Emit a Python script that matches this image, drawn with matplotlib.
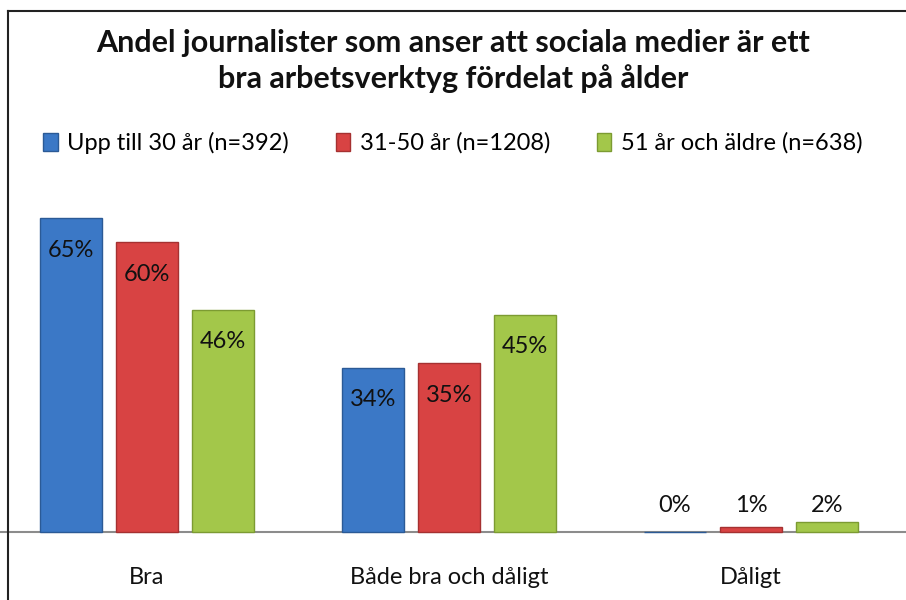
import matplotlib

matplotlib.use("Agg")
import matplotlib.pyplot as plt
from matplotlib.lines import Line2D
from matplotlib.patches import Patch
import numpy as np

plt.rcParams["font.family"] = ["Lato", "DejaVu Sans"]

categories = ["Bra", "Både bra och dåligt", "Dåligt"]
series_names = [
    "Upp till 30 år (n=392)",
    "31-50 år (n=1208)",
    "51 år och äldre (n=638)",
]
young = [65, 34, 0]
middle = [60, 35, 1]
older = [46, 45, 2]
value_labels = [
    ["65%", "34%", "0%"],
    ["60%", "35%", "1%"],
    ["46%", "45%", "2%"],
]
title = "Andel journalister som anser att sociala medier är ett\nbra arbetsverktyg fördelat på ålder"

colors = ["#3b78c6", "#d84343", "#a3c74a"]
edges = ["#2b5a96", "#a53131", "#7c9b32"]

fig = plt.figure(figsize=(9.06, 6.0), dpi=100)
ax = fig.add_axes([0.0, 1 - 532 / 600, 1.0, 338 / 600])

x = np.arange(len(categories))
width = 0.205
step = 0.252
for i, vals in enumerate([young, middle, older]):
    pos = x + (i - 1) * step
    ax.bar(pos, vals, width, color=colors[i], edgecolor=edges[i], linewidth=1.0,
           zorder=3, clip_on=False)
    for p, v, lab in zip(pos, vals, value_labels[i]):
        if v > 10:
            ax.annotate(lab, (p, v), xytext=(0, -32), textcoords="offset pixels",
                        ha="center", va="center", fontsize=17, color="#111111", zorder=4)
        else:
            ax.annotate(lab, (p, 0), xytext=(0, 26), textcoords="offset pixels",
                        ha="center", va="center", fontsize=17, color="#111111", zorder=4)

ax.set_xlim(-147 / 302, (906 - 147) / 302)
ax.set_ylim(0, 70)
ax.axis("off")
ax.plot([-1, 3], [0, 0], color="#8c8c8c", linewidth=1.5, zorder=2, clip_on=False)

for xi, cat in zip(x, categories):
    ax.annotate(cat, (xi, 0), xytext=(0, -45), textcoords="offset pixels",
                ha="center", va="center", fontsize=17, color="#111111")

fig.text(0.5, 1 - 61 / 600, title, ha="center", va="center", fontsize=22,
         fontweight="bold", color="#111111", linespacing=1.3)

handles = [Patch(facecolor=c, edgecolor=e) for c, e in zip(colors, edges)]
fig.legend(handles, series_names, loc="center", bbox_to_anchor=(0.5, 1 - 143 / 600),
           ncol=3, frameon=False, fontsize=17, handlelength=0.6, handleheight=0.8,
           handletextpad=0.4, columnspacing=2.0)

# chart frame (left and top edges)
fig.add_artist(Line2D([8 / 906, 8 / 906], [0, 1 - 11 / 600], color="#222222", linewidth=1.5))
fig.add_artist(Line2D([8 / 906, 1], [1 - 11 / 600, 1 - 11 / 600], color="#222222", linewidth=1.5))

fig.savefig("out.png", dpi=100)
